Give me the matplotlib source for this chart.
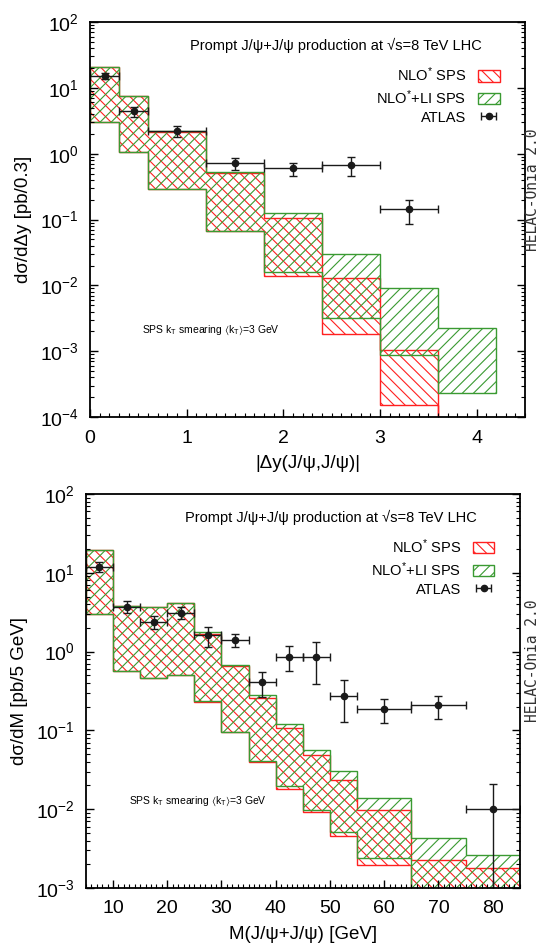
import numpy as np
import matplotlib
matplotlib.use("Agg")
import matplotlib.pyplot as plt
from matplotlib.ticker import MultipleLocator, LogLocator

plt.rcParams['font.family'] = ['Liberation Sans', 'DejaVu Sans']
plt.rcParams['mathtext.default'] = 'regular'
plt.rcParams['hatch.linewidth'] = 0.8

RED = '#ff2020'
GREEN = '#3a9a32'

# ---- top panel: |Delta y(J/psi, J/psi)| ----
dy_edges = [0, 0.3, 0.6, 1.2, 1.8, 2.4, 3.0, 3.6, 4.2]
# NLO* SPS band (last bin lies below the plotted range)
dy_nlo_lo = [3.0, 1.06, 0.29, 0.066, 0.0138, 0.0018, 0.000155, 1e-6]
dy_nlo_hi = [20.5, 7.5, 2.15, 0.51, 0.105, 0.0129, 0.00105, 1e-5]
# NLO*+LI SPS band
dy_li_lo = [3.0, 1.06, 0.29, 0.067, 0.0158, 0.0032, 0.00089, 0.00023]
dy_li_hi = [20.7, 7.5, 2.2, 0.53, 0.125, 0.0298, 0.0091, 0.00224]
# ATLAS data
dy_x = [0.15, 0.45, 0.9, 1.5, 2.1, 2.7, 3.3]
dy_xerr = [0.15, 0.15, 0.3, 0.3, 0.3, 0.3, 0.3]
dy_val = [15.0, 4.4, 2.2, 0.72, 0.60, 0.67, 0.145]
dy_up = [17.0, 5.1, 2.6, 0.86, 0.72, 0.89, 0.20]
dy_dn = [13.5, 3.6, 1.8, 0.57, 0.46, 0.46, 0.085]

# ---- bottom panel: M(J/psi + J/psi) ----
m_edges = [5, 10, 15, 20, 25, 30, 35, 40, 45, 50, 55, 65, 75, 85]
m_nlo_lo = [3.0, 0.56, 0.46, 0.50, 0.23, 0.094, 0.040, 0.018, 0.0093, 0.0046, 0.00195, 5e-4, 5e-4]
m_nlo_hi = [19.5, 3.8, 3.7, 4.1, 1.65, 0.66, 0.26, 0.107, 0.048, 0.0234, 0.0098, 0.00226, 0.0018]
m_li_lo = [3.0, 0.57, 0.46, 0.50, 0.236, 0.096, 0.041, 0.0195, 0.0098, 0.0051, 0.0024, 5e-4, 5e-4]
m_li_hi = [19.5, 3.8, 3.7, 4.1, 1.75, 0.67, 0.28, 0.12, 0.057, 0.0305, 0.0138, 0.0043, 0.0026]
m_x = [7.5, 12.5, 17.5, 22.5, 27.5, 32.5, 37.5, 42.5, 47.5, 52.5, 60, 70, 80]
m_xerr = [2.5, 2.5, 2.5, 2.5, 2.5, 2.5, 2.5, 2.5, 2.5, 2.5, 5, 5, 5]
m_val = [11.9, 3.7, 2.4, 3.1, 1.62, 1.41, 0.41, 0.86, 0.86, 0.27, 0.187, 0.21, 0.0101]
m_up = [13.7, 4.4, 2.8, 3.7, 2.05, 1.67, 0.55, 1.17, 1.32, 0.43, 0.25, 0.27, 0.021]
m_dn = [10.2, 3.1, 1.94, 2.6, 1.16, 1.16, 0.265, 0.57, 0.39, 0.128, 0.124, 0.14, 1e-4]

title = 'Prompt J/\u03c8+J/\u03c8 production at \u221as=8 TeV LHC'
smear = r'SPS k$_T$ smearing $\langle$k$_T$$\rangle$=3 GeV'


def panel(ax, edges, nlo_lo, nlo_hi, li_lo, li_hi, x, xerr, val, up, dn):
    ax.stairs(nlo_hi, edges, baseline=nlo_lo, fill=True, facecolor='none',
              edgecolor=RED, hatch='\\\\\\', linewidth=1.0, label='NLO$^{*}$ SPS')
    ax.stairs(li_hi, edges, baseline=li_lo, fill=True, facecolor='none',
              edgecolor=GREEN, hatch='///', linewidth=1.0, label='NLO$^{*}$+LI SPS')
    val = np.array(val)
    yerr = [val - np.array(dn), np.array(up) - val]
    ax.errorbar(x, val, xerr=xerr, yerr=yerr, fmt='o', color='#1a1a1a',
                ms=4.5, capsize=3, elinewidth=1, capthick=1)
    # legend proxy: horizontal bar only
    ax.errorbar([np.nan], [np.nan], xerr=[1], fmt='o', color='#1a1a1a',
                ms=4.5, capsize=3, elinewidth=1, capthick=1, label='ATLAS')
    ax.set_yscale('log')
    ax.yaxis.set_minor_locator(LogLocator(base=10, subs=np.arange(2, 10)))
    ax.tick_params(which='both', direction='in', right=True, top=False, labelsize=14)
    ax.tick_params(which='major', length=6, width=1)
    ax.tick_params(which='minor', length=3, width=0.8)
    ax.tick_params(axis='x', which='major', pad=9)
    ax.tick_params(axis='y', which='major', pad=8)
    for s in ax.spines.values():
        s.set_linewidth(1.3)
    ax.text(0.90, 0.94, title, transform=ax.transAxes, ha='right', va='center', fontsize=10.5)
    ax.legend(loc='upper right', bbox_to_anchor=(0.955, 0.905), frameon=False,
              markerfirst=False, fontsize=10.5, handlelength=1.5, handleheight=0.8,
              labelspacing=0.28, borderaxespad=0, handletextpad=0.8)


fig = plt.figure(figsize=(5.4, 9.5), dpi=100)

ax1 = fig.add_axes([0.1667, 0.561, 0.8056, 0.4158])
panel(ax1, dy_edges, dy_nlo_lo, dy_nlo_hi, dy_li_lo, dy_li_hi,
      dy_x, dy_xerr, dy_val, dy_up, dy_dn)
ax1.set_xlim(0, 4.5)
ax1.set_ylim(1e-4, 1e2)
ax1.xaxis.set_major_locator(MultipleLocator(1))
ax1.xaxis.set_minor_locator(MultipleLocator(0.1))
ax1.set_xlabel('|\u0394y(J/\u03c8,J/\u03c8)|', fontsize=13.5, labelpad=6)
ax1.set_ylabel('d\u03c3/d\u0394y [pb/0.3]', fontsize=13.5, labelpad=6)
ax1.text(0.12, 0.22, smear, transform=ax1.transAxes, fontsize=7.5, va='center')

ax2 = fig.add_axes([0.159, 0.0653, 0.8037, 0.4147])
panel(ax2, m_edges, m_nlo_lo, m_nlo_hi, m_li_lo, m_li_hi,
      m_x, m_xerr, m_val, m_up, m_dn)
ax2.set_xlim(5, 85)
ax2.set_ylim(1e-3, 1e2)
ax2.xaxis.set_major_locator(MultipleLocator(10))
ax2.xaxis.set_minor_locator(MultipleLocator(1))
ax2.set_xlabel('M(J/\u03c8+J/\u03c8) [GeV]', fontsize=13.5, labelpad=6)
ax2.set_ylabel('d\u03c3/dM [pb/5 GeV]', fontsize=13.5, labelpad=6)
ax2.text(0.10, 0.22, smear, transform=ax2.transAxes, fontsize=7.5, va='center')

for yc in (1 - 190 / 950, 1 - 661 / 950):
    fig.text(0.987, yc, 'HELAC-Onia 2.0', rotation=90, ha='center', va='center',
             family='DejaVu Sans Mono', fontsize=10.5, color='#333333')

fig.savefig('out.png', dpi=100)
